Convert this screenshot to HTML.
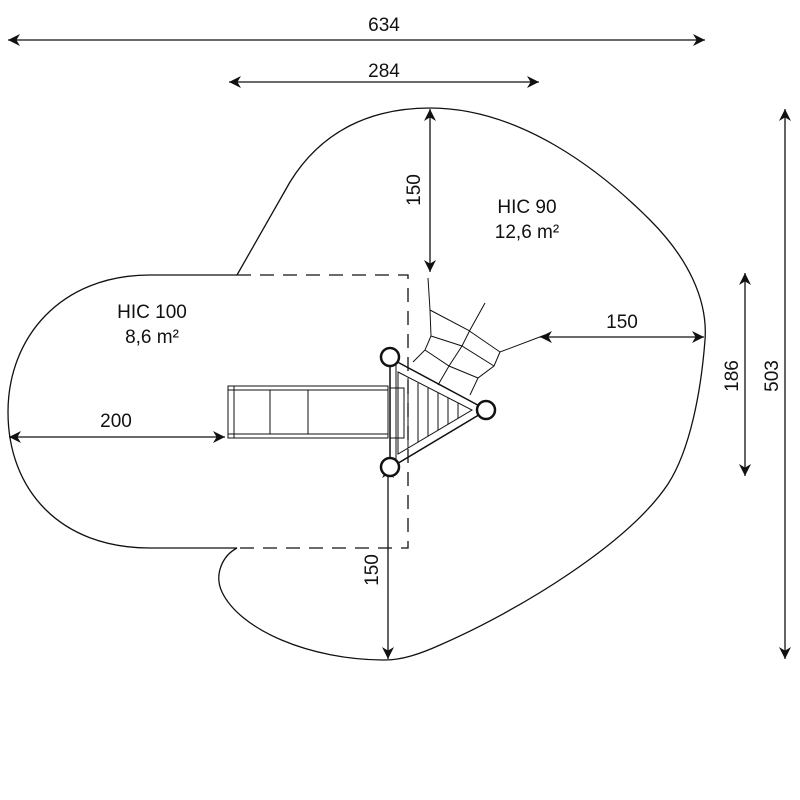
<!DOCTYPE html>
<html><head><meta charset="utf-8"><style>html,body{margin:0;padding:0;background:#fff}svg{display:block}</style></head><body>
<svg width="800" height="800" viewBox="0 0 800 800" xmlns="http://www.w3.org/2000/svg" font-family="Liberation Sans, sans-serif">
<defs>
<marker id="a" viewBox="0 0 10 10" refX="10" refY="5" markerWidth="14" markerHeight="12" markerUnits="userSpaceOnUse" orient="auto-start-reverse"><path d="M0,0 L10,5 L0,10 L3,5 Z" fill="#111"/></marker>
</defs>
<g fill="none" stroke="#111" stroke-width="1.3">
<path d="M237,275 L290,182 C322,130 372,108 430,108 C520,108 600,170 650,220 C688,258 708,300 705,340 C701,392 690,450 668,484 C628,544 520,610 440,645 C420,654 402,660 385,660 C310,660 240,630 222,592 C214,575 222,556 237,548"/>
<path d="M237,275 L150,275 C60,275 8,338 8,412 C8,490 60,548 150,548 L237,548"/>
<path d="M237,275 L408,275 L408,548 L237,548" stroke-dasharray="14,9"/>
</g>
<g stroke="#111" stroke-width="1.3" fill="none" marker-start="url(#a)" marker-end="url(#a)">
<line x1="8" y1="40" x2="705" y2="40"/>
<line x1="229" y1="82" x2="539" y2="82"/>
<line x1="430" y1="109" x2="430" y2="272"/>
<line x1="540" y1="337" x2="704" y2="337"/>
<line x1="9" y1="437" x2="225" y2="437"/>
<line x1="388" y1="466" x2="388" y2="659"/>
<line x1="745" y1="273" x2="745" y2="476"/>
<line x1="785" y1="109" x2="785" y2="659"/>
</g>
<g fill="#111" font-size="19" text-anchor="middle">
<text x="384" y="31">634</text>
<text x="384" y="77">284</text>
<text x="622" y="328">150</text>
<text x="116" y="427">200</text>
<text x="527" y="213">HIC 90</text>
<text x="527" y="238">12,6 m²</text>
<text x="152" y="318">HIC 100</text>
<text x="152" y="343">8,6 m²</text>
<text transform="translate(420,190) rotate(-90)">150</text>
<text transform="translate(378,570) rotate(-90)">150</text>
<text transform="translate(738,376) rotate(-90)">186</text>
<text transform="translate(778,376) rotate(-90)">503</text>
</g>
<g stroke="#111" stroke-width="1" fill="none">
<rect x="228" y="386" width="160" height="52"/>
<line x1="228" y1="390" x2="388" y2="390"/><line x1="228" y1="434" x2="388" y2="434"/>
<line x1="234" y1="386" x2="234" y2="438"/><line x1="270" y1="390" x2="270" y2="434"/><line x1="308" y1="390" x2="308" y2="434"/>
<rect x="390" y="388" width="14" height="50"/>
<path d="M390,358 L487,410 L390,468 Z" stroke-width="1.5"/>
<path d="M398,372 L472,410 L398,454 Z"/>
<line x1="390" y1="358" x2="390" y2="468"/><line x1="396" y1="358" x2="396" y2="468"/>
<line x1="408" y1="378" x2="408" y2="448"/><line x1="418" y1="383" x2="418" y2="442"/><line x1="428" y1="388" x2="428" y2="436"/><line x1="438" y1="393" x2="438" y2="430"/><line x1="448" y1="398" x2="448" y2="424"/><line x1="458" y1="403" x2="458" y2="418"/>
<path d="M428,278 L430,310 L431,336 L425,350 L413,362"/>
<path d="M485,303 L470,330 L462,346 L449,366 L438,385"/>
<path d="M430,310 L468,330 L500,352 L545,335"/>
<path d="M431,336 L462,346 L494,366"/>
<path d="M425,350 L449,366 L478,378"/>
<path d="M500,352 L494,366 L478,378 L470,395"/>
</g>
<g stroke="#111" stroke-width="2.5" fill="#fff">
<circle cx="390" cy="357" r="9"/><circle cx="486" cy="410" r="9"/><circle cx="390" cy="467" r="9"/>
</g>
</svg>
</body></html>
